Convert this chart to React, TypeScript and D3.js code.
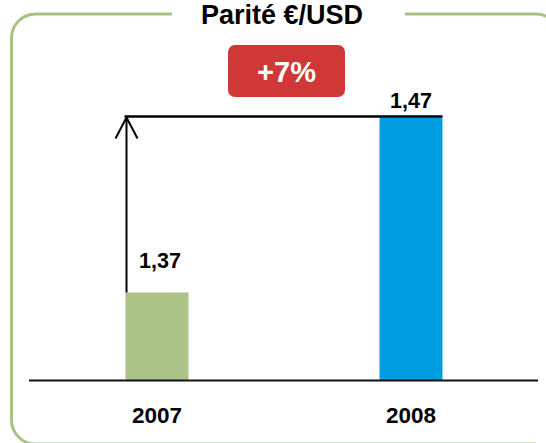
import React, { useEffect, useRef } from 'react';
import * as d3 from 'd3';

const years = ['2007', '2008'];
const rates = [1.37, 1.47];
const rateLabels = ['1,37', '1,47'];
const barColors = ['#abc386', '#009ee0'];
const title = 'Parité €/USD';
const changeLabel = '+7%';

const W = 546;
const H = 443;
const FONT = 'Arial, "Liberation Sans", sans-serif';

const App = () => {
  const svgRef = useRef<SVGSVGElement>(null);

  useEffect(() => {
    const svg = d3.select(svgRef.current);
    svg.selectAll('*').remove();

    const margin = { left: 30, right: 8, top: 65, bottom: 63 };
    const baseY = H - margin.bottom;

    const x = d3.scaleBand()
      .domain(years)
      .range([margin.left, W - margin.right])
      .paddingInner(0.752)
      .paddingOuter(0.376);

    const y = d3.scaleLinear()
      .domain([1.32, 1.5])
      .range([baseY, margin.top]);

    // frame with a gap for the title
    const fx = 11.5, fy = 14, r = 24, fb = 444, fr = 560;
    const frame = d3.path();
    frame.moveTo(172, fy);
    frame.lineTo(fx + r, fy);
    frame.arcTo(fx, fy, fx, fy + r, r);
    frame.lineTo(fx, fb - r);
    frame.arcTo(fx, fb, fx + r, fb, r);
    frame.lineTo(fr - r, fb);
    frame.moveTo(405, fy);
    frame.lineTo(fr - r, fy);
    frame.arcTo(fr, fy, fr, fy + r, r);
    frame.lineTo(fr, fb);
    svg.append('path')
      .attr('d', frame.toString())
      .attr('fill', 'none')
      .attr('stroke', '#a9c283')
      .attr('stroke-width', 3);

    svg.append('text')
      .attr('x', 282)
      .attr('y', 24)
      .attr('text-anchor', 'middle')
      .style('font-family', FONT)
      .style('font-weight', 'bold')
      .style('font-size', '27px')
      .attr('fill', '#000')
      .text(title);

    // +7% badge
    svg.append('rect')
      .attr('x', 228)
      .attr('y', 45)
      .attr('width', 117)
      .attr('height', 52)
      .attr('rx', 7)
      .attr('fill', '#d03838');
    svg.append('text')
      .attr('x', 286.5)
      .attr('y', 82)
      .attr('text-anchor', 'middle')
      .style('font-family', FONT)
      .style('font-weight', 'bold')
      .style('font-size', '29px')
      .attr('fill', '#fff')
      .text(changeLabel);

    // bars
    svg.selectAll('.bar')
      .data(rates)
      .enter()
      .append('rect')
      .attr('class', 'bar')
      .attr('x', (d, i) => x(years[i]) as number)
      .attr('y', d => y(d))
      .attr('width', x.bandwidth())
      .attr('height', d => baseY - y(d))
      .attr('fill', (d, i) => barColors[i]);

    // value labels
    svg.selectAll('.val')
      .data(rates)
      .enter()
      .append('text')
      .attr('class', 'val')
      .attr('x', (d, i) => (x(years[i]) as number) + x.bandwidth() / 2 + (i === 0 ? 3 : 0))
      .attr('y', (d, i) => y(d) - (i === 0 ? 25 : 10))
      .attr('text-anchor', 'middle')
      .style('font-family', FONT)
      .style('font-weight', 'bold')
      .style('font-size', '21.5px')
      .attr('fill', '#000')
      .text((d, i) => rateLabels[i]);

    // reference line + arrow
    const x0 = (x(years[0]) as number) + 1;
    const x1 = (x(years[1]) as number) + x.bandwidth();
    const yTop = y(rates[1]) - 1;
    svg.append('line')
      .attr('x1', x0 - 2).attr('x2', x1)
      .attr('y1', yTop).attr('y2', yTop)
      .attr('stroke', '#000').attr('stroke-width', 2.5);
    svg.append('line')
      .attr('x1', x0).attr('x2', x0)
      .attr('y1', y(rates[0])).attr('y2', yTop + 1)
      .attr('stroke', '#000').attr('stroke-width', 2);
    svg.append('path')
      .attr('d', `M${x0 - 11},${yTop + 22}L${x0},${yTop + 1}L${x0 + 11},${yTop + 22}`)
      .attr('fill', 'none')
      .attr('stroke', '#000')
      .attr('stroke-width', 2);

    // baseline
    svg.append('line')
      .attr('x1', 29).attr('x2', 538)
      .attr('y1', baseY + 0.5).attr('y2', baseY + 0.5)
      .attr('stroke', '#111').attr('stroke-width', 2);

    // year labels
    svg.selectAll('.year')
      .data(years)
      .enter()
      .append('text')
      .attr('class', 'year')
      .attr('x', d => (x(d) as number) + x.bandwidth() / 2)
      .attr('y', baseY + 43)
      .attr('text-anchor', 'middle')
      .style('font-family', FONT)
      .style('font-weight', 'bold')
      .style('font-size', '22.5px')
      .attr('fill', '#000')
      .text(d => d);
  }, []);

  return (
    <svg
      ref={svgRef}
      width={W}
      height={H}
      style={{ position: 'absolute', left: 0, top: 0, background: '#fff', display: 'block' }}
    />
  );
};

export default App;
